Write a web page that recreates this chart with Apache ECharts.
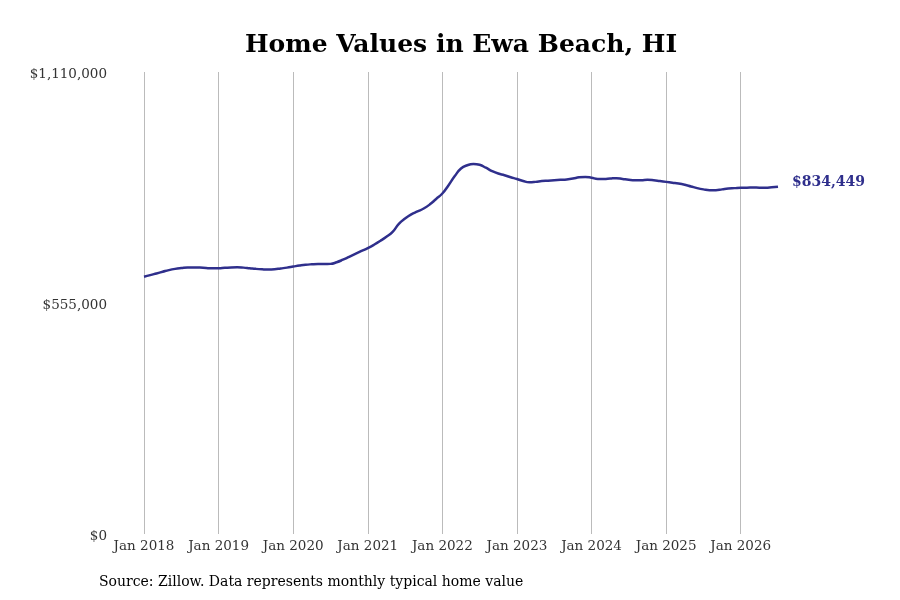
<!DOCTYPE html>
<html lang="en">
<head>
    <meta charset="UTF-8">
    <title>Home Values in Ewa Beach, HI</title>
    <script type="text/javascript" src="https://cdn.jsdelivr.net/npm/echarts@6/dist/echarts.min.js"></script>
    <style>
        html, body { margin: 0; padding: 0; background: #fff; }
    </style>
</head>
<body>
    <div id="div_echars" style="width: 900px;height:600px;"></div>
    <script type="text/javascript">
        // monthly typical home value, Jan 2018 .. Jul 2026
        var values2018 = [618200, 622000, 626000, 630000, 634000, 637000, 639000, 640500, 640500, 640000, 639000, 638500];
        var values2019 = [638500, 639500, 640500, 640800, 640000, 638500, 637000, 636000, 635500, 636000, 638000, 640000];
        var values2020 = [642500, 645000, 647000, 648000, 648500, 648500, 649000, 653000, 659000, 666000, 673000, 680000];
        var values2021 = [687000, 695000, 704000, 714000, 726000, 745000, 758000, 768000, 775000, 782000, 792000, 805000];
        var values2022 = [818000, 838000, 860000, 878000, 886000, 889000, 887000, 880000, 872000, 866000, 862000, 857000];
        var values2023 = [853000, 848000, 845000, 846000, 848000, 849000, 850000, 851000, 852000, 854000, 857000, 858000];
        var values2024 = [856000, 853000, 853000, 854000, 855000, 853000, 851000, 850000, 850000, 851000, 850000, 848000];
        var values2025 = [846000, 844000, 842000, 839000, 835000, 831000, 828000, 826000, 826000, 828000, 830000, 831000];
        var values2026 = [832000, 832000, 832500, 832000, 832000, 833000, 834449];

        var years = [2018, 2019, 2020, 2021, 2022, 2023, 2024, 2025, 2026];
        var monthNames = ['Jan', 'Feb', 'Mar', 'Apr', 'May', 'Jun', 'Jul', 'Aug', 'Sep', 'Oct', 'Nov', 'Dec'];
        var yTicks = [0, 555000, 1110000];

        var values = [].concat(values2018, values2019, values2020, values2021, values2022,
            values2023, values2024, values2025, values2026);

        var months = [];
        for (var i = 0; i < values.length; i++) {
            months.push(monthNames[i % 12] + ' ' + years[Math.floor(i / 12)]);
        }

        function isJan(idx) {
            return idx % 12 === 0;
        }

        function money(v) {
            return '$' + Math.round(v).toLocaleString('en-US');
        }

        var lineColor = '#2f2f8c';
        var font = 'DejaVu Serif';

        var myChart = echarts.init(document.getElementById('div_echars'));
        var option = {
            animation: false,
            backgroundColor: '#ffffff',
            textStyle: { fontFamily: font },
            title: {
                text: 'Home Values in Ewa Beach, HI',
                left: 456,
                top: 28,
                textAlign: 'center',
                textStyle: { fontFamily: font, fontSize: 25, fontWeight: 'bold', color: '#000' }
            },
            graphic: [{
                type: 'text',
                left: 99,
                top: 575,
                style: {
                    text: 'Source: Zillow. Data represents monthly typical home value',
                    fontFamily: font,
                    fontSize: 14,
                    fill: '#000'
                }
            }],
            grid: { left: 144, right: 122, top: 72, bottom: 66, containLabel: false },
            xAxis: {
                type: 'category',
                boundaryGap: false,
                data: months,
                axisLine: { show: false },
                axisTick: { show: false },
                axisLabel: {
                    interval: function (idx) { return isJan(idx); },
                    color: '#333',
                    fontSize: 13.5,
                    fontFamily: font,
                    margin: 5
                },
                splitLine: {
                    show: true,
                    interval: function (idx) { return isJan(idx); },
                    lineStyle: { color: '#bbbbbb', width: 1 }
                }
            },
            yAxis: {
                type: 'value',
                min: yTicks[0],
                max: yTicks[2],
                interval: yTicks[1],
                axisLine: { show: false },
                axisTick: { show: false },
                splitLine: { show: false },
                axisLabel: {
                    formatter: function (v) { return '{v|' + money(v) + '}'; },
                    margin: 37,
                    rich: {
                        v: {
                            color: '#333',
                            fontSize: 13.5,
                            fontFamily: font,
                            padding: [4, 0, 0, 0]
                        }
                    }
                }
            },
            series: [{
                name: 'Home value',
                type: 'line',
                data: values,
                smooth: true,
                showSymbol: false,
                lineStyle: { color: lineColor, width: 2.5 },
                itemStyle: { color: lineColor },
                endLabel: {
                    show: true,
                    formatter: function (p) { return money(p.value); },
                    color: lineColor,
                    fontWeight: 'bold',
                    fontSize: 14,
                    fontFamily: font,
                    distance: 14,
                    offset: [0, -4]
                }
            }]
        };
        myChart.setOption(option);
    </script>
</body>
</html>
